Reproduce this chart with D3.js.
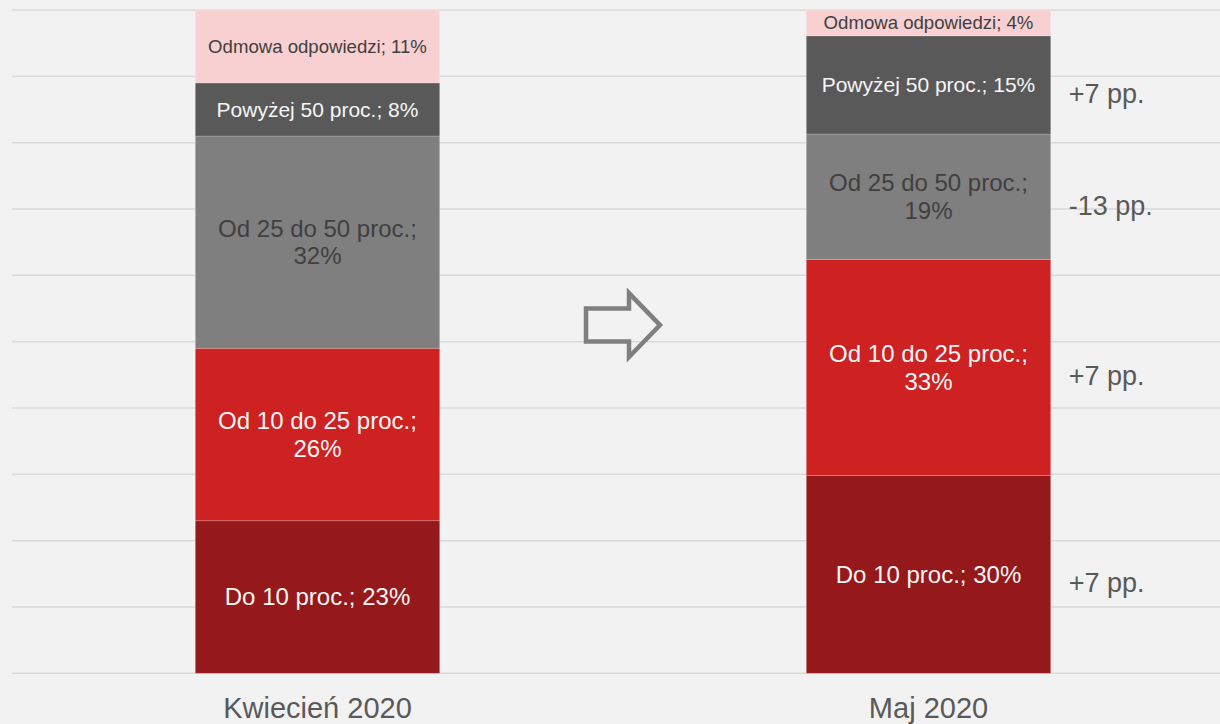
<!DOCTYPE html>
<html>
<head>
<meta charset="utf-8">
<script src="https://cdn.jsdelivr.net/npm/d3@7"></script>
<style>
  html, body { margin: 0; padding: 0; background: #f2f2f2; }
  svg { display: block; font-family: "Liberation Sans", Arial, sans-serif; }
</style>
</head>
<body>
<script>
// categories (bars) and stacked segments, bottom to top
const categories = ["Kwiecień 2020", "Maj 2020"];
const segments = ["Do 10 proc.", "Od 10 do 25 proc.", "Od 25 do 50 proc.", "Powyżej 50 proc.", "Odmowa odpowiedzi"];
const aprilValues = [23, 26, 32, 8, 11];
const mayValues = [29.8, 32.6, 18.9, 14.8, 3.9];
const gridTicks = [0, 10, 20, 30, 40, 50, 60, 70, 80, 90, 100];

// styles
const segColors = ["#95191a", "#cd2122", "#7f7f7f", "#595959", "#f8d0d1"];
const textColors = ["#f6f6f6", "#f6f6f6", "#404040", "#f6f6f6", "#404040"];
const fontSizes = [24, 24, 24, 21, 18.6];

const width = 1220, height = 724;

const svg = d3.select("body").append("svg")
    .attr("width", width)
    .attr("height", height);

svg.append("rect")
    .attr("width", width)
    .attr("height", height)
    .attr("fill", "#f2f2f2");

const x = d3.scaleBand()
    .domain(categories)
    .range([12, 1234])
    .paddingInner(0.6)
    .paddingOuter(0.3);

const y = d3.scaleLinear()
    .domain([0, 100])
    .range([673.3, 10]);

// gridlines
svg.append("g")
    .selectAll("line")
    .data(gridTicks)
    .enter().append("line")
    .attr("x1", 12)
    .attr("x2", width)
    .attr("y1", d => y(d))
    .attr("y2", d => y(d))
    .attr("stroke", "#d9d9d9")
    .attr("stroke-width", 1.5);

// build table for stack
const table = categories.map(function(c, i) {
    const row = {cat: c};
    const vals = i == 0 ? aprilValues : mayValues;
    segments.forEach(function(s, j) { row[s] = vals[j]; });
    return row;
});

const stack = d3.stack().keys(segments)(table);

const layer = svg.append("g")
    .selectAll("g")
    .data(stack)
    .enter().append("g");

layer.selectAll("rect")
    .data(d => d.map(p => ({p: p, key: d.key, idx: d.index})))
    .enter().append("rect")
    .attr("x", d => x(d.p.data.cat))
    .attr("y", d => y(d.p[1]))
    .attr("width", x.bandwidth())
    .attr("height", d => y(d.p[0]) - y(d.p[1]))
    .attr("fill", d => segColors[d.idx])
    .attr("stroke", "rgba(255,255,255,0.25)")
    .attr("stroke-width", 0.75);

// segment labels
layer.selectAll("text")
    .data(d => d.map(p => ({p: p, key: d.key, idx: d.index})))
    .enter().append("text")
    .attr("text-anchor", "middle")
    .attr("fill", d => textColors[d.idx])
    .attr("font-size", d => fontSizes[d.idx])
    .each(function(d) {
        const t = d3.select(this);
        const cx = x(d.p.data.cat) + x.bandwidth() / 2;
        const cy = (y(d.p[0]) + y(d.p[1])) / 2;
        const pct = Math.round(d.p[1] - d.p[0]) + "%";
        const full = d.key + "; " + pct;
        t.attr("x", cx).attr("y", cy).attr("dy", "0.35em").text(full);
        if (this.getComputedTextLength() > x.bandwidth() - 16) {
            t.text(null).attr("dy", null);
            const lh = d.idx < 3 ? 27.4 : 24;
            t.append("tspan").attr("x", cx).attr("y", cy - lh / 2).attr("dy", "0.35em").text(d.key + ";");
            t.append("tspan").attr("x", cx).attr("y", cy + lh / 2).attr("dy", "0.35em").text(pct);
        }
    });

// change annotations next to the second bar
const deltas = segments.slice(0, 4).map((s, j) => ({
    idx: j,
    delta: Math.round(mayValues[j]) - Math.round(aprilValues[j])
}));

const mayStackPos = stack.map(l => l[1]);

svg.append("g")
    .selectAll("text")
    .data(deltas)
    .enter().append("text")
    .attr("x", x(categories[1]) + x.bandwidth() + 18)
    .attr("y", d => (y(mayStackPos[d.idx][0]) + y(mayStackPos[d.idx][1])) / 2 + 8.5)
    .attr("dy", "0.35em")
    .attr("font-size", 27)
    .attr("fill", "#595959")
    .text(d => (d.delta > 0 ? "+" : "") + d.delta + " pp.");

// category labels
svg.append("g")
    .selectAll("text")
    .data(categories)
    .enter().append("text")
    .attr("x", d => x(d) + x.bandwidth() / 2)
    .attr("y", 718)
    .attr("text-anchor", "middle")
    .attr("font-size", 29)
    .attr("fill", "#595959")
    .text(d => d);

// arrow between bars
const ax = (x(categories[0]) + x.bandwidth() + x(categories[1])) / 2,
    ay = y(52.5);
const arrow = [
    [-37, -16.5], [6, -16.5], [6, -32], [37, 0], [6, 32], [6, 16.5], [-37, 16.5]
];
svg.append("path")
    .attr("d", d3.line()(arrow.map(p => [ax + p[0], ay + p[1]])) + "Z")
    .attr("fill", "none")
    .attr("stroke", "#7f7f7f")
    .attr("stroke-width", 4.5)
    .attr("stroke-linejoin", "miter");
</script>
</body>
</html>
